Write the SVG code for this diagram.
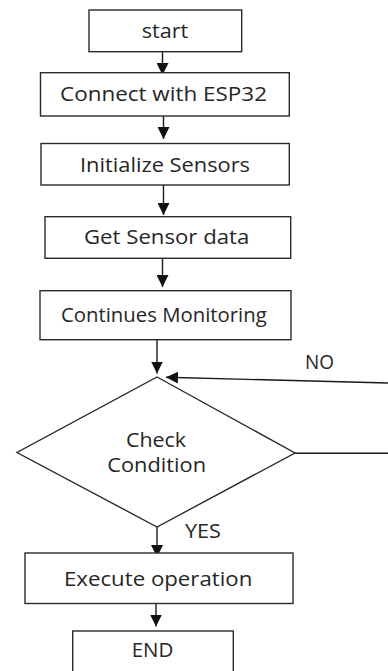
<svg xmlns="http://www.w3.org/2000/svg" width="388" height="671" viewBox="0 0 388 671">
<style>
.box{fill:#fff;stroke:#2a2a2a;stroke-width:1.4}
.t{font-family:"Open Sans","Liberation Sans",sans-serif;font-size:19.5px;fill:#262626;text-anchor:start}
.c{fill:none;stroke:#1a1a1a;stroke-width:1.4}
</style>
<defs>
<marker id="ah2" markerWidth="12" markerHeight="12" refX="12" refY="6" orient="auto" markerUnits="userSpaceOnUse"><path d="M0,0 L12,6 L0,12 Z" fill="#111"/></marker>
</defs>
<rect width="388" height="671" fill="#fff"/>
<g id="connectors">
<line class="c" x1="162.5" y1="51.7" x2="162.5" y2="75" marker-end="url(#ah2)"/>
<line class="c" x1="163.5" y1="116" x2="163.5" y2="139" marker-end="url(#ah2)"/>
<line class="c" x1="163.5" y1="185" x2="163.5" y2="215" marker-end="url(#ah2)"/>
<line class="c" x1="162.5" y1="258.3" x2="162.5" y2="287" marker-end="url(#ah2)"/>
<line class="c" x1="157" y1="339.7" x2="157" y2="373.5" marker-end="url(#ah2)"/>
<line class="c" x1="388" y1="383" x2="166" y2="377.3" marker-end="url(#ah2)"/>
<line class="c" x1="295" y1="453.3" x2="388" y2="453.3"/>
<line class="c" x1="157" y1="527" x2="157" y2="557" marker-end="url(#ah2)"/>
<line class="c" x1="156" y1="603.5" x2="156" y2="626.5" marker-end="url(#ah2)"/>
<text class="t" x="305" y="369.3" textLength="29" lengthAdjust="spacingAndGlyphs">NO</text>
<text class="t" x="185" y="538.3" textLength="36" lengthAdjust="spacingAndGlyphs">YES</text>
</g>
<g id="start">
<rect class="box" x="89" y="10" width="152.7" height="41.7"/>
<text class="t" x="141.7" y="38" textLength="46.6" lengthAdjust="spacingAndGlyphs">start</text>
</g>
<g id="connect">
<rect class="box" x="40.5" y="72.7" width="248.8" height="43.3"/>
<text class="t" x="60" y="100.5" textLength="207" lengthAdjust="spacingAndGlyphs">Connect with ESP32</text>
</g>
<g id="init">
<rect class="box" x="41" y="143.5" width="248.3" height="41.5"/>
<text class="t" x="80" y="171.5" textLength="170" lengthAdjust="spacingAndGlyphs">Initialize Sensors</text>
</g>
<g id="getdata">
<rect class="box" x="45" y="216.7" width="245.7" height="41.6"/>
<text class="t" x="84" y="244" textLength="165.3" lengthAdjust="spacingAndGlyphs">Get Sensor data</text>
</g>
<g id="monitor">
<rect class="box" x="40" y="290.7" width="251" height="49"/>
<text class="t" x="61" y="321.7" textLength="205.7" lengthAdjust="spacingAndGlyphs">Continues Monitoring</text>
</g>
<g id="check">
<polygon class="box" points="157,377 295,453 157,527 17,452.5"/>
<text class="t" x="126" y="447.3" textLength="60" lengthAdjust="spacingAndGlyphs">Check</text>
<text class="t" x="107.3" y="471.7" textLength="98.7" lengthAdjust="spacingAndGlyphs">Condition</text>
</g>
<g id="execute">
<rect class="box" x="25" y="553" width="268" height="50.5"/>
<text class="t" x="64" y="586" textLength="188.3" lengthAdjust="spacingAndGlyphs">Execute operation</text>
</g>
<g id="end">
<rect class="box" x="72.7" y="631" width="160.6" height="50"/>
<text class="t" x="131.7" y="657.3" textLength="41.6" lengthAdjust="spacingAndGlyphs">END</text>
</g>
</svg>
